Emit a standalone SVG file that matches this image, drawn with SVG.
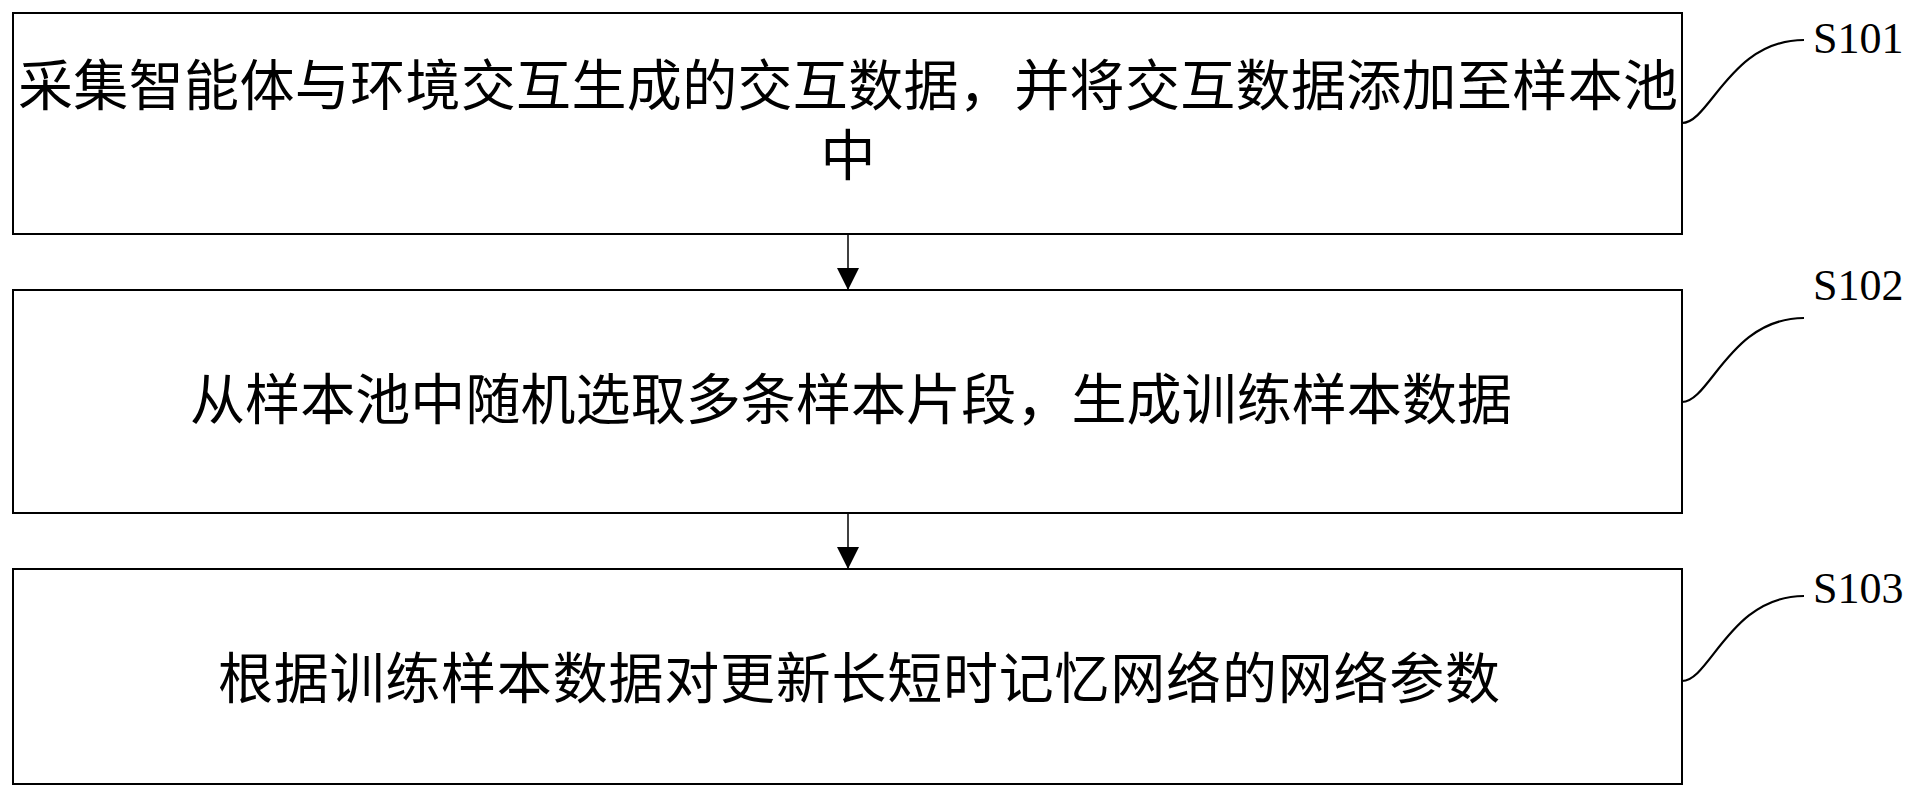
<svg xmlns="http://www.w3.org/2000/svg" width="1920" height="808" viewBox="0 0 1920 808">
<style>
.box{fill:#fff;stroke:#000;stroke-width:2}
.t{font-family:"Liberation Serif","Noto Sans CJK SC",serif;font-size:55px;fill:#000}
.lbl{font-family:"Liberation Serif","Times New Roman",serif;font-size:44px;fill:#000}
.conn{fill:none;stroke:#000;stroke-width:1.5}
.lead{fill:none;stroke:#000;stroke-width:2.2}
</style>
<defs>
<marker id="ah" markerUnits="userSpaceOnUse" markerWidth="24" markerHeight="24" viewBox="0 0 24 24" refX="22" refY="12" orient="auto">
<path d="M0,1 L22,12 L0,23 Z" fill="#000"/>
</marker>
</defs>
<rect width="1920" height="808" fill="#fff"/>
<g id="connectors">
<line class="conn" x1="848" y1="234" x2="848" y2="290" marker-end="url(#ah)"/>
<line class="conn" x1="848" y1="513" x2="848" y2="569" marker-end="url(#ah)"/>
<path class="lead" d="M1682,123 C1710,123 1730,40 1804,40"/>
<path class="lead" d="M1682,402 C1710,402 1730,318 1804,318"/>
<path class="lead" d="M1682,681 C1710,681 1730,596 1804,596"/>
</g>
<g id="S101">
<rect class="box" x="13" y="13" width="1669" height="221"/>
<text class="t" x="18" y="105" textLength="1660" lengthAdjust="spacing">采集智能体与环境交互生成的交互数据，并将交互数据添加至样本池</text>
<text class="t" x="848" y="175" text-anchor="middle">中</text>
<text class="lbl" x="1813" y="53">S101</text>
</g>
<g id="S102">
<rect class="box" x="13" y="290" width="1669" height="223"/>
<text class="t" x="190" y="419" textLength="1322" lengthAdjust="spacing">从样本池中随机选取多条样本片段，生成训练样本数据</text>
<text class="lbl" x="1813" y="300">S102</text>
</g>
<g id="S103">
<rect class="box" x="13" y="569" width="1669" height="215"/>
<text class="t" x="218" y="698" textLength="1282" lengthAdjust="spacing">根据训练样本数据对更新长短时记忆网络的网络参数</text>
<text class="lbl" x="1813" y="603">S103</text>
</g>
</svg>
